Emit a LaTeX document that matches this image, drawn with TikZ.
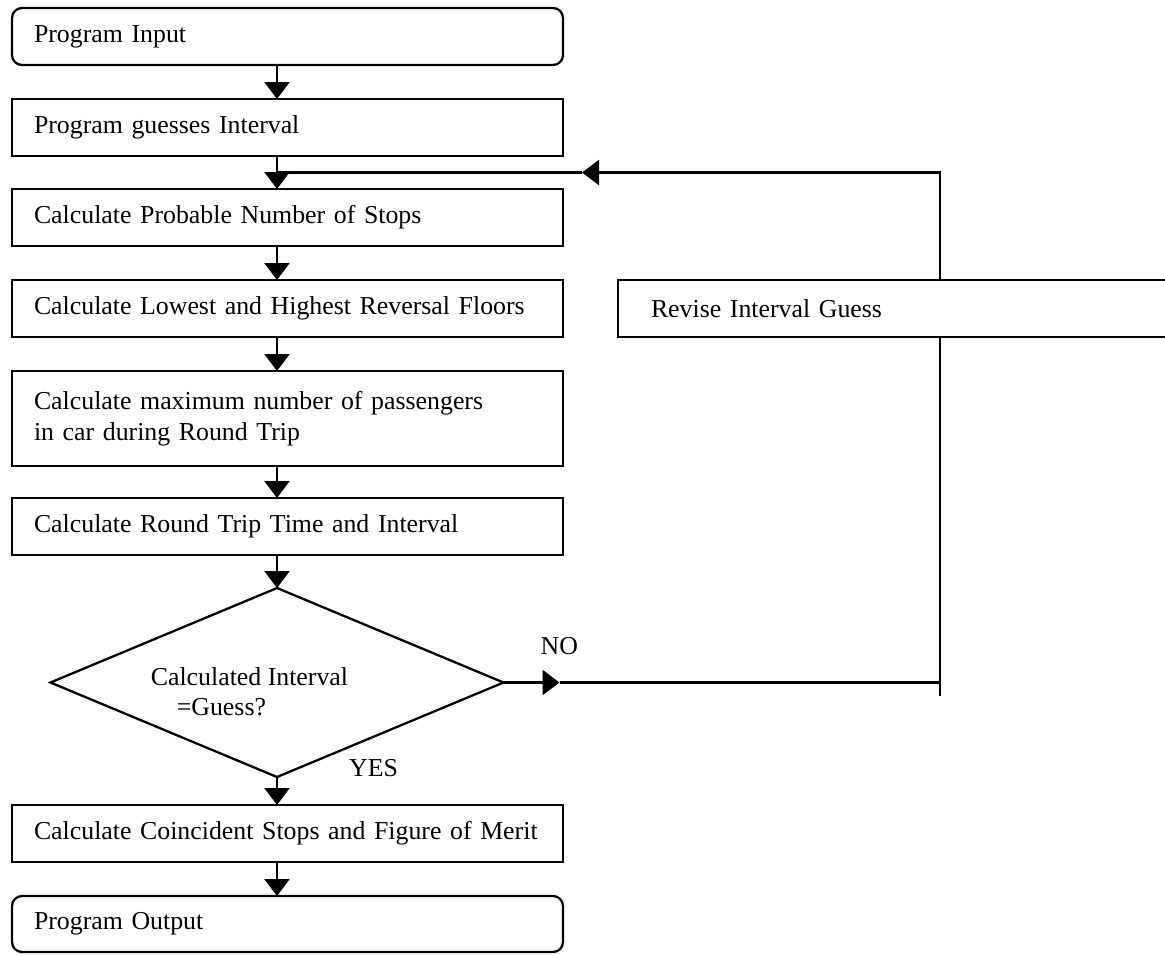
\documentclass[tikz,border=0pt]{standalone}
\usepackage{fontspec}
\setmainfont{Liberation Serif}
\usetikzlibrary{shapes.geometric, arrows.meta, positioning, calc}
\tikzset{
  font=\fontsize{14.7}{17.3}\selectfont,
  node distance=0.66cm,
  baseblock/.style={
    rectangle, draw=black, line width=1.3pt, outer sep=0pt,
    minimum height=1.14cm, text width=10.14cm,
    inner xsep=0.44cm, inner ysep=0pt, align=left
  },
  termblock/.style={baseblock, rounded corners=0.2cm},
  procblock/.style={baseblock},
  reviseblock/.style={baseblock, text width=11.1cm, inner xsep=0.66cm},
  decisionblock/.style={
    diamond, draw=black, line width=1.3pt, inner sep=0pt, outer sep=0pt,
    minimum width=9.06cm, minimum height=3.78cm
  },
  flowline/.style={
    draw=black, -{Triangle[length=0.34cm, width=0.5cm]}, line width=1.3pt
  },
  plainline/.style={draw=black, line width=1.3pt}
}

\begin{document}
\begin{tikzpicture}
  \useasboundingbox (0,0) rectangle (23.3,-19.08);
  \clip (0,0) rectangle (23.3,-19.08);
  \coordinate (spine) at (5.54,0);

  % main column
  \node[termblock, anchor=north west] (input) at (0.24,-0.16) {Program Input};
  \node[procblock, below=0.68cm of input] (guess) {Program guesses Interval};
  \node[procblock, below=0.66cm of guess] (stops) {Calculate Probable Number of Stops};
  \node[procblock, below=0.68cm of stops] (floors) {Calculate Lowest and Highest Reversal Floors};
  \node[procblock, below=0.68cm of floors, minimum height=1.9cm] (passengers) {
    Calculate maximum number of passengers\\
    in car during Round Trip
  };
  \node[procblock, below=0.64cm of passengers] (roundtrip) {Calculate Round Trip Time and Interval};

  \node[decisionblock, anchor=north] (check) at ($(roundtrip.south -| spine)+(0,-0.66)$) {};
  \node[inner sep=0pt, align=left, anchor=west] (checktext) at ($(check.west)+(2.0,-0.18)$) {
    Calculated Interval\\
    \hspace*{0.52cm}=Guess?
  };

  \coordinate (checkbase) at (check.south -| roundtrip.south);
  \node[procblock, below=0.56cm of checkbase] (merit) {Calculate Coincident Stops and Figure of Merit};
  \node[termblock, below=0.68cm of merit, minimum height=1.12cm] (output) {Program Output};

  % revise branch
  \node[reviseblock, anchor=north west] (revise) at ($(floors.north west)+(12.12,0)$) {Revise Interval Guess};

  \node[anchor=base west] (yes) at ($(check.south)+(1.32,0.02)$) {YES};
  \node[anchor=base west] (no) at ($(check.east)+(0.62,0.56)$) {NO};

  % connectors
  \draw[flowline] (input.south -| spine) -- (guess.north -| spine);
  \draw[flowline] (guess.south -| spine) -- (stops.north -| spine);
  \draw[flowline] (stops.south -| spine) -- (floors.north -| spine);
  \draw[flowline] (floors.south -| spine) -- (passengers.north -| spine);
  \draw[flowline] (passengers.south -| spine) -- (roundtrip.north -| spine);
  \draw[flowline] (roundtrip.south -| spine) -- (check.north);
  \draw[flowline] (check.south) -- (merit.north -| spine);
  \draw[flowline] (merit.south -| spine) -- (output.north -| spine);

  % loop back
  \coordinate (join) at ($(guess.south -| spine)!0.5!(stops.north -| spine)$);
  \coordinate (loopx) at ($(revise.north west)+(6.44,0)$);
  \coordinate (backtip) at ($(join)+(6.1,0)$);
  \coordinate (notip) at ($(check.east)+(1.12,0)$);
  \coordinate (loopbottom) at ($(check.east -| loopx)+(0,-0.26)$);

  \draw[flowline] (check.east) -- (notip);
  \draw[plainline] (notip) -- (check.east -| loopx);
  \draw[plainline] (loopbottom) -- (revise.south -| loopx);
  \draw[flowline] (revise.north -| loopx) |- (backtip);
  \draw[plainline] (backtip) -- (join);
\end{tikzpicture}
\end{document}
